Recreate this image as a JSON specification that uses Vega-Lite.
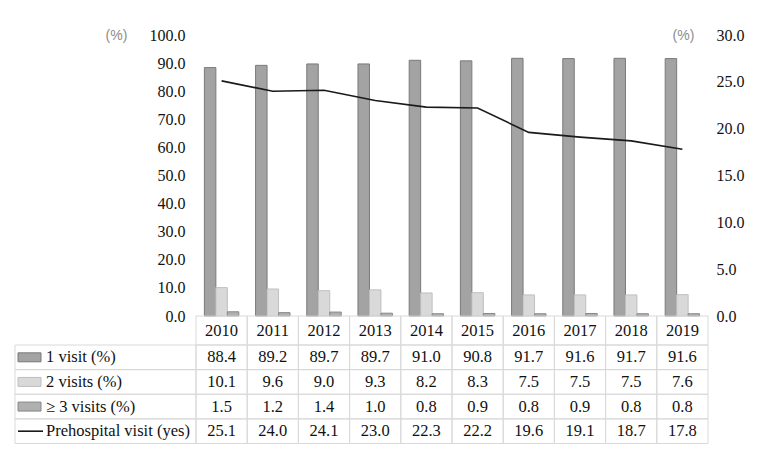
{
  "$schema": "https://vega.github.io/schema/vega-lite/v6.json",
  "background": "white",
  "padding": {"left": 14, "top": 27, "right": 5, "bottom": 5},
  "autosize": {"type": "pad"},
  "config": {
    "view": {"stroke": null},
    "font": "'Liberation Serif', 'Times New Roman', 'DejaVu Serif', serif",
    "concat": {"spacing": 0}
  },
  "datasets": {
    "cells": [
      {"year": "2010", "row": "1 visit (%)", "value": 88.4}, {"year": "2011", "row": "1 visit (%)", "value": 89.2}, {"year": "2012", "row": "1 visit (%)", "value": 89.7}, {"year": "2013", "row": "1 visit (%)", "value": 89.7}, {"year": "2014", "row": "1 visit (%)", "value": 91.0},
      {"year": "2015", "row": "1 visit (%)", "value": 90.8}, {"year": "2016", "row": "1 visit (%)", "value": 91.7}, {"year": "2017", "row": "1 visit (%)", "value": 91.6}, {"year": "2018", "row": "1 visit (%)", "value": 91.7}, {"year": "2019", "row": "1 visit (%)", "value": 91.6},
      {"year": "2010", "row": "2 visits (%)", "value": 10.1}, {"year": "2011", "row": "2 visits (%)", "value": 9.6}, {"year": "2012", "row": "2 visits (%)", "value": 9.0}, {"year": "2013", "row": "2 visits (%)", "value": 9.3}, {"year": "2014", "row": "2 visits (%)", "value": 8.2},
      {"year": "2015", "row": "2 visits (%)", "value": 8.3}, {"year": "2016", "row": "2 visits (%)", "value": 7.5}, {"year": "2017", "row": "2 visits (%)", "value": 7.5}, {"year": "2018", "row": "2 visits (%)", "value": 7.5}, {"year": "2019", "row": "2 visits (%)", "value": 7.6},
      {"year": "2010", "row": "≥ 3 visits (%)", "value": 1.5}, {"year": "2011", "row": "≥ 3 visits (%)", "value": 1.2}, {"year": "2012", "row": "≥ 3 visits (%)", "value": 1.4}, {"year": "2013", "row": "≥ 3 visits (%)", "value": 1.0}, {"year": "2014", "row": "≥ 3 visits (%)", "value": 0.8},
      {"year": "2015", "row": "≥ 3 visits (%)", "value": 0.9}, {"year": "2016", "row": "≥ 3 visits (%)", "value": 0.8}, {"year": "2017", "row": "≥ 3 visits (%)", "value": 0.9}, {"year": "2018", "row": "≥ 3 visits (%)", "value": 0.8}, {"year": "2019", "row": "≥ 3 visits (%)", "value": 0.8},
      {"year": "2010", "row": "Prehospital visit (yes)", "value": 25.1}, {"year": "2011", "row": "Prehospital visit (yes)", "value": 24.0}, {"year": "2012", "row": "Prehospital visit (yes)", "value": 24.1}, {"year": "2013", "row": "Prehospital visit (yes)", "value": 23.0}, {"year": "2014", "row": "Prehospital visit (yes)", "value": 22.3},
      {"year": "2015", "row": "Prehospital visit (yes)", "value": 22.2}, {"year": "2016", "row": "Prehospital visit (yes)", "value": 19.6}, {"year": "2017", "row": "Prehospital visit (yes)", "value": 19.1}, {"year": "2018", "row": "Prehospital visit (yes)", "value": 18.7}, {"year": "2019", "row": "Prehospital visit (yes)", "value": 17.8}
    ]
  },
  "columns": 2,
  "spacing": 0,
  "bounds": "flush",
  "concat": [
    {
      "width": 10,
      "height": 281,
      "data": {"values": [{"a": 1}]},
      "mark": {"type": "text"},
      "encoding": {"text": {"value": ""}}
    },
    {
      "width": 512,
      "height": 281,
      "data": {"name": "cells"},
      "encoding": {
        "x": {"field": "year", "type": "nominal", "scale": {"paddingInner": 0, "paddingOuter": 0}, "axis": null}
      },
      "layer": [
        {
          "transform": [{"filter": "datum.row !== 'Prehospital visit (yes)'"}],
          "mark": {"type": "bar", "strokeWidth": 1},
          "encoding": {
            "xOffset": {"field": "row", "type": "nominal", "scale": {"domain": ["1 visit (%)", "2 visits (%)", "≥ 3 visits (%)"], "paddingInner": 0, "paddingOuter": 0.73}},
            "y": {
              "field": "value", "type": "quantitative",
              "scale": {"domain": [0, 100], "nice": false},
              "axis": {
                "orient": "left", "values": [0, 10, 20, 30, 40, 50, 60, 70, 80, 90, 100], "format": ".1f",
                "domain": false, "ticks": false, "grid": false, "labelPadding": 11,
                "labelFontSize": 16, "labelFont": "'Liberation Serif', 'Times New Roman', serif", "labelColor": "#111",
                "title": "(%)", "titleAngle": 0, "titleX": -80, "titleY": 0, "titleAlign": "center", "titleBaseline": "middle",
                "titleFont": "'Liberation Sans', Arial, sans-serif", "titleFontSize": 14, "titleFontWeight": "normal", "titleColor": "#8c8c8c"
              }
            },
            "fill": {"field": "row", "type": "nominal", "scale": {"domain": ["1 visit (%)", "2 visits (%)", "≥ 3 visits (%)"], "range": ["#a3a3a3", "#d9d9d9", "#b0b0b0"]}, "legend": null},
            "stroke": {"field": "row", "type": "nominal", "scale": {"domain": ["1 visit (%)", "2 visits (%)", "≥ 3 visits (%)"], "range": ["#7a7a7a", "#bfbfbf", "#888888"]}, "legend": null}
          }
        },
        {
          "transform": [{"filter": "datum.row === 'Prehospital visit (yes)'"}],
          "mark": {"type": "line", "color": "#1a1a1a", "strokeWidth": 1.6},
          "encoding": {
            "y": {
              "field": "value", "type": "quantitative",
              "scale": {"domain": [0, 30], "nice": false},
              "axis": {
                "orient": "right", "values": [0, 5, 10, 15, 20, 25, 30], "format": ".1f",
                "domain": false, "ticks": false, "grid": false, "labelPadding": 8,
                "labelFontSize": 16, "labelFont": "'Liberation Serif', 'Times New Roman', serif", "labelColor": "#111",
                "title": "(%)", "titleAngle": 0, "titleX": -25, "titleY": 0, "titleAlign": "center", "titleBaseline": "middle",
                "titleFont": "'Liberation Sans', Arial, sans-serif", "titleFontSize": 14, "titleFontWeight": "normal", "titleColor": "#8c8c8c"
              }
            }
          }
        }
      ],
      "resolve": {"scale": {"y": "independent"}}
    },
    {
      "width": 10,
      "height": 29,
      "data": {"values": [{"a": 1}]},
      "mark": {"type": "text"},
      "encoding": {"text": {"value": ""}}
    },
    {
      "width": 512,
      "height": 29,
      "data": {"name": "cells"},
      "transform": [{"filter": "datum.row === '1 visit (%)'"}],
      "encoding": {
        "x": {"field": "year", "type": "nominal", "scale": {"paddingInner": 0, "paddingOuter": 0}, "axis": null}
      },
      "layer": [
        {"mark": {"type": "rect", "fill": null, "stroke": "#d9d9d9", "strokeWidth": 1}},
        {
          "mark": {"type": "text", "align": "center", "baseline": "middle", "fontSize": 16.5, "color": "#111"},
          "encoding": {"text": {"field": "year"}}
        }
      ]
    },
    {
      "width": 181,
      "height": 98.5,
      "data": {"name": "cells"},
      "transform": [{"filter": "datum.year === '2010'"}],
      "encoding": {
        "y": {"field": "row", "type": "nominal", "scale": {"domain": ["1 visit (%)", "2 visits (%)", "≥ 3 visits (%)", "Prehospital visit (yes)"], "paddingInner": 0, "paddingOuter": 0}, "axis": null}
      },
      "layer": [
        {
          "mark": {"type": "rect", "fill": null, "stroke": "#d9d9d9", "strokeWidth": 1}
        },
        {
          "transform": [{"filter": "datum.row !== 'Prehospital visit (yes)'"}],
          "mark": {"type": "point", "shape": "M-1,-0.39H1V0.39H-1Z", "size": 529, "filled": true, "opacity": 1, "strokeWidth": 1},
          "encoding": {
            "x": {"value": 14.5},
            "fill": {"field": "row", "type": "nominal", "scale": {"domain": ["1 visit (%)", "2 visits (%)", "≥ 3 visits (%)"], "range": ["#a3a3a3", "#d9d9d9", "#b0b0b0"]}, "legend": null},
            "stroke": {"field": "row", "type": "nominal", "scale": {"domain": ["1 visit (%)", "2 visits (%)", "≥ 3 visits (%)"], "range": ["#7a7a7a", "#bfbfbf", "#888888"]}, "legend": null}
          }
        },
        {
          "transform": [{"filter": "datum.row === 'Prehospital visit (yes)'"}],
          "mark": {"type": "point", "shape": "M-1,0H1", "size": 625, "filled": false, "opacity": 1, "stroke": "#1a1a1a", "strokeWidth": 1.6},
          "encoding": {"x": {"value": 15.5}}
        },
        {
          "mark": {"type": "text", "align": "left", "baseline": "middle", "fontSize": 16.5, "color": "#111"},
          "encoding": {"x": {"value": 31}, "text": {"field": "row"}}
        }
      ]
    },
    {
      "width": 512,
      "height": 98.5,
      "data": {"name": "cells"},
      "encoding": {
        "x": {"field": "year", "type": "nominal", "scale": {"paddingInner": 0, "paddingOuter": 0}, "axis": null},
        "y": {"field": "row", "type": "nominal", "scale": {"domain": ["1 visit (%)", "2 visits (%)", "≥ 3 visits (%)", "Prehospital visit (yes)"], "paddingInner": 0, "paddingOuter": 0}, "axis": null}
      },
      "layer": [
        {
          "mark": {"type": "rect", "fill": null, "stroke": "#d9d9d9", "strokeWidth": 1}
        },
        {
          "mark": {"type": "text", "align": "center", "baseline": "middle", "fontSize": 16.5, "color": "#111"},
          "encoding": {"text": {"field": "value", "type": "quantitative", "format": ".1f"}}
        }
      ]
    }
  ]
}
